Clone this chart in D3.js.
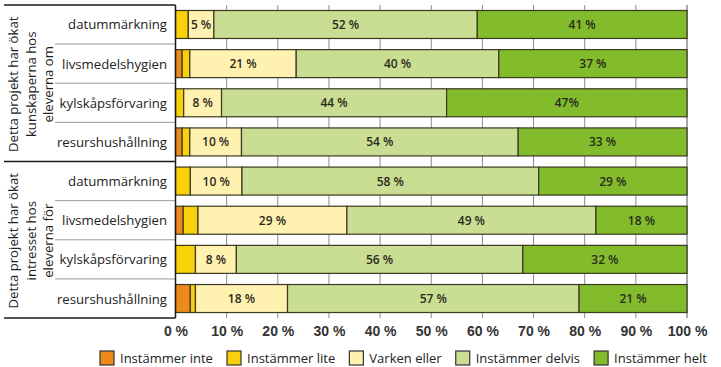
<!DOCTYPE html>
<html>
<head>
<meta charset="utf-8">
<script src="https://cdn.jsdelivr.net/npm/d3@7"></script>
<style>
    body { margin: 0; background: #fff; }
    svg { display: block; font-family: "Open Sans", "Noto Sans", sans-serif; }
    .cat { font-size: 13.2px; fill: #222; }
    .grp { font-size: 13.2px; fill: #222; }
    .val { font-size: 12px; font-weight: 600; fill: #2b2a1c; }
    .tick text { font-size: 14px; font-weight: 600; fill: #333; }
    .leg { font-size: 13px; fill: #222; }
</style>
</head>
<body>
<svg id="chart" width="721" height="367"></svg>
<script>
// rows, top to bottom
const categories = ['datummärkning', 'livsmedelshygien', 'kylskåpsförvaring', 'resurshushållning',
                    'datummärkning', 'livsmedelshygien', 'kylskåpsförvaring', 'resurshushållning'];
const groups = [
    ['Detta projekt har ökat', 'kunskaperna hos', 'eleverna om'],
    ['Detta projekt har ökat', 'intresset hos', 'eleverna för']
];
const seriesNames = ['Instämmer inte', 'Instämmer lite', 'Varken eller', 'Instämmer delvis', 'Instämmer helt'];
const seriesColors = ['#ee8a1c', '#f8d10a', '#fff2b0', '#c9dd93', '#82bc2c'];

// shares in percent
const inte   = [0,    1.3,  0,    1.3,  0,    1.5,  0,    2.9];
const lite   = [2.5,  1.5,  1.6,  1.5,  2.9,  2.9,  3.9,  1.0];
const varken = [5,    20.8, 7.4,  10.1, 10.1, 29.1, 8,    18];
const delvis = [51.5, 39.6, 44,   54.1, 58,   48.7, 56,   57];
const helt   = [41,   36.8, 47,   33,   29,   17.8, 32.1, 21.1];

// printed labels
const varkenLabels = ['5 %', '21 %', '8 %', '10 %', '10 %', '29 %', '8 %', '18 %'];
const delvisLabels = ['52 %', '40 %', '44 %', '54 %', '58 %', '49 %', '56 %', '57 %'];
const heltLabels   = ['41 %', '37 %', '47%', '33 %', '29 %', '18 %', '32 %', '21 %'];

const tickValues = [0, 10, 20, 30, 40, 50, 60, 70, 80, 90, 100];

const series = [inte, lite, varken, delvis, helt];
const labels = [null, null, varkenLabels, delvisLabels, heltLabels];

const svg = d3.select('#chart');
const plotTop = 5, plotBottom = 318, plotLeft = 175.5, plotRight = 687;

const x = d3.scaleLinear().domain([0, 100]).range([plotLeft, plotRight]);
const y = d3.scaleBand().domain(d3.range(categories.length)).range([plotTop, plotBottom])
            .paddingInner(0.285).paddingOuter(0.14);

// grid
svg.append('g').selectAll('line').data(tickValues).join('line')
    .attr('x1', d => x(d)).attr('x2', d => x(d))
    .attr('y1', plotTop).attr('y2', plotBottom)
    .attr('stroke', d => d === 100 ? '#555' : '#8c8c8c')
    .attr('stroke-width', 1);

// stacked segments
const rows = categories.map((c, i) => {
    let acc = 0;
    return series.map((s, k) => {
        const seg = {row: i, k: k, x0: acc, x1: acc + s[i], label: labels[k] ? labels[k][i] : null};
        acc += s[i];
        return seg;
    });
});
const segs = rows.flat().filter(d => d.x1 > d.x0);

svg.append('g').selectAll('rect').data(segs).join('rect')
    .attr('x', d => x(d.x0))
    .attr('y', d => y(d.row))
    .attr('width', d => x(d.x1) - x(d.x0))
    .attr('height', y.bandwidth())
    .attr('fill', d => seriesColors[d.k])
    .attr('stroke', '#3a3820')
    .attr('stroke-width', 1.2);

svg.append('g').selectAll('text').data(segs.filter(d => d.label)).join('text')
    .attr('class', 'val')
    .attr('x', d => (x(d.x0) + x(d.x1)) / 2)
    .attr('y', d => y(d.row) + y.bandwidth() / 2)
    .attr('text-anchor', 'middle')
    .attr('dominant-baseline', 'central')
    .attr('fill', d => d.k === 4 ? '#1e2a0e' : '#2b2a1c')
    .text(d => d.label);

// category labels
svg.append('g').selectAll('text').data(categories).join('text')
    .attr('class', 'cat')
    .attr('x', 167)
    .attr('y', (d, i) => y(i) + y.bandwidth() / 2)
    .attr('text-anchor', 'end')
    .attr('dominant-baseline', 'central')
    .text(d => d);

// row separators inside the label column
const perGroup = categories.length / groups.length;
const sepRows = d3.range(1, categories.length).filter(i => i % perGroup !== 0);
const mid = i => (y(i - 1) + y.bandwidth() + y(i)) / 2;
svg.append('g').selectAll('line').data(sepRows).join('line')
    .attr('x1', 55).attr('x2', plotLeft)
    .attr('y1', d => mid(d)).attr('y2', d => mid(d))
    .attr('stroke', '#9a9a9a').attr('stroke-width', 1);

// black frame of the label column
const frame = svg.append('g').attr('stroke', '#1a1a1a').attr('stroke-width', 1.5);
[plotTop, mid(perGroup), plotBottom].forEach(yy => {
    frame.append('line').attr('x1', 4).attr('x2', plotLeft).attr('y1', yy).attr('y2', yy);
});
frame.append('line').attr('x1', plotLeft).attr('x2', plotLeft).attr('y1', plotTop).attr('y2', plotBottom);

// group labels, rotated
const lineX = [13, 30.5, 47.5];
groups.forEach((g, gi) => {
    const y0 = gi === 0 ? plotTop : mid(perGroup);
    const y1 = gi === 0 ? mid(perGroup) : plotBottom;
    const cy = (y0 + y1) / 2 + 1;
    g.forEach((line, li) => {
        svg.append('text')
            .attr('class', 'grp')
            .attr('transform', `translate(${lineX[li]},${cy}) rotate(-90)`)
            .attr('text-anchor', 'middle')
            .attr('dominant-baseline', 'central')
            .text(line);
    });
});

// x axis labels
const axis = svg.append('g').attr('transform', `translate(0,${plotBottom})`)
    .call(d3.axisBottom(x).tickValues(tickValues).tickFormat(d => d + ' %').tickSize(0).tickPadding(8));
axis.select('.domain').remove();
axis.selectAll('.tick text').attr('font-family', null).attr('font-size', null).attr('fill', null);

// legend, spread from x=100 to x=707
const legX0 = 100, legX1 = 707, box = 14, boxGap = 6;
const leg = svg.append('g');
const items = seriesNames.map((name, i) => {
    const g = leg.append('g');
    g.append('rect').attr('width', box).attr('height', box).attr('y', 351)
        .attr('fill', seriesColors[i]).attr('stroke', '#333').attr('stroke-width', 1.2);
    const t = g.append('text').attr('class', 'leg').attr('x', box + boxGap).attr('y', 363).text(name);
    return {g: g, w: box + boxGap + t.node().getComputedTextLength()};
});
const gap = (legX1 - legX0 - d3.sum(items, d => d.w)) / (items.length - 1);
let cx = legX0;
items.forEach(it => {
    it.g.attr('transform', `translate(${cx},0)`);
    cx += it.w + gap;
});
</script>
</body>
</html>
